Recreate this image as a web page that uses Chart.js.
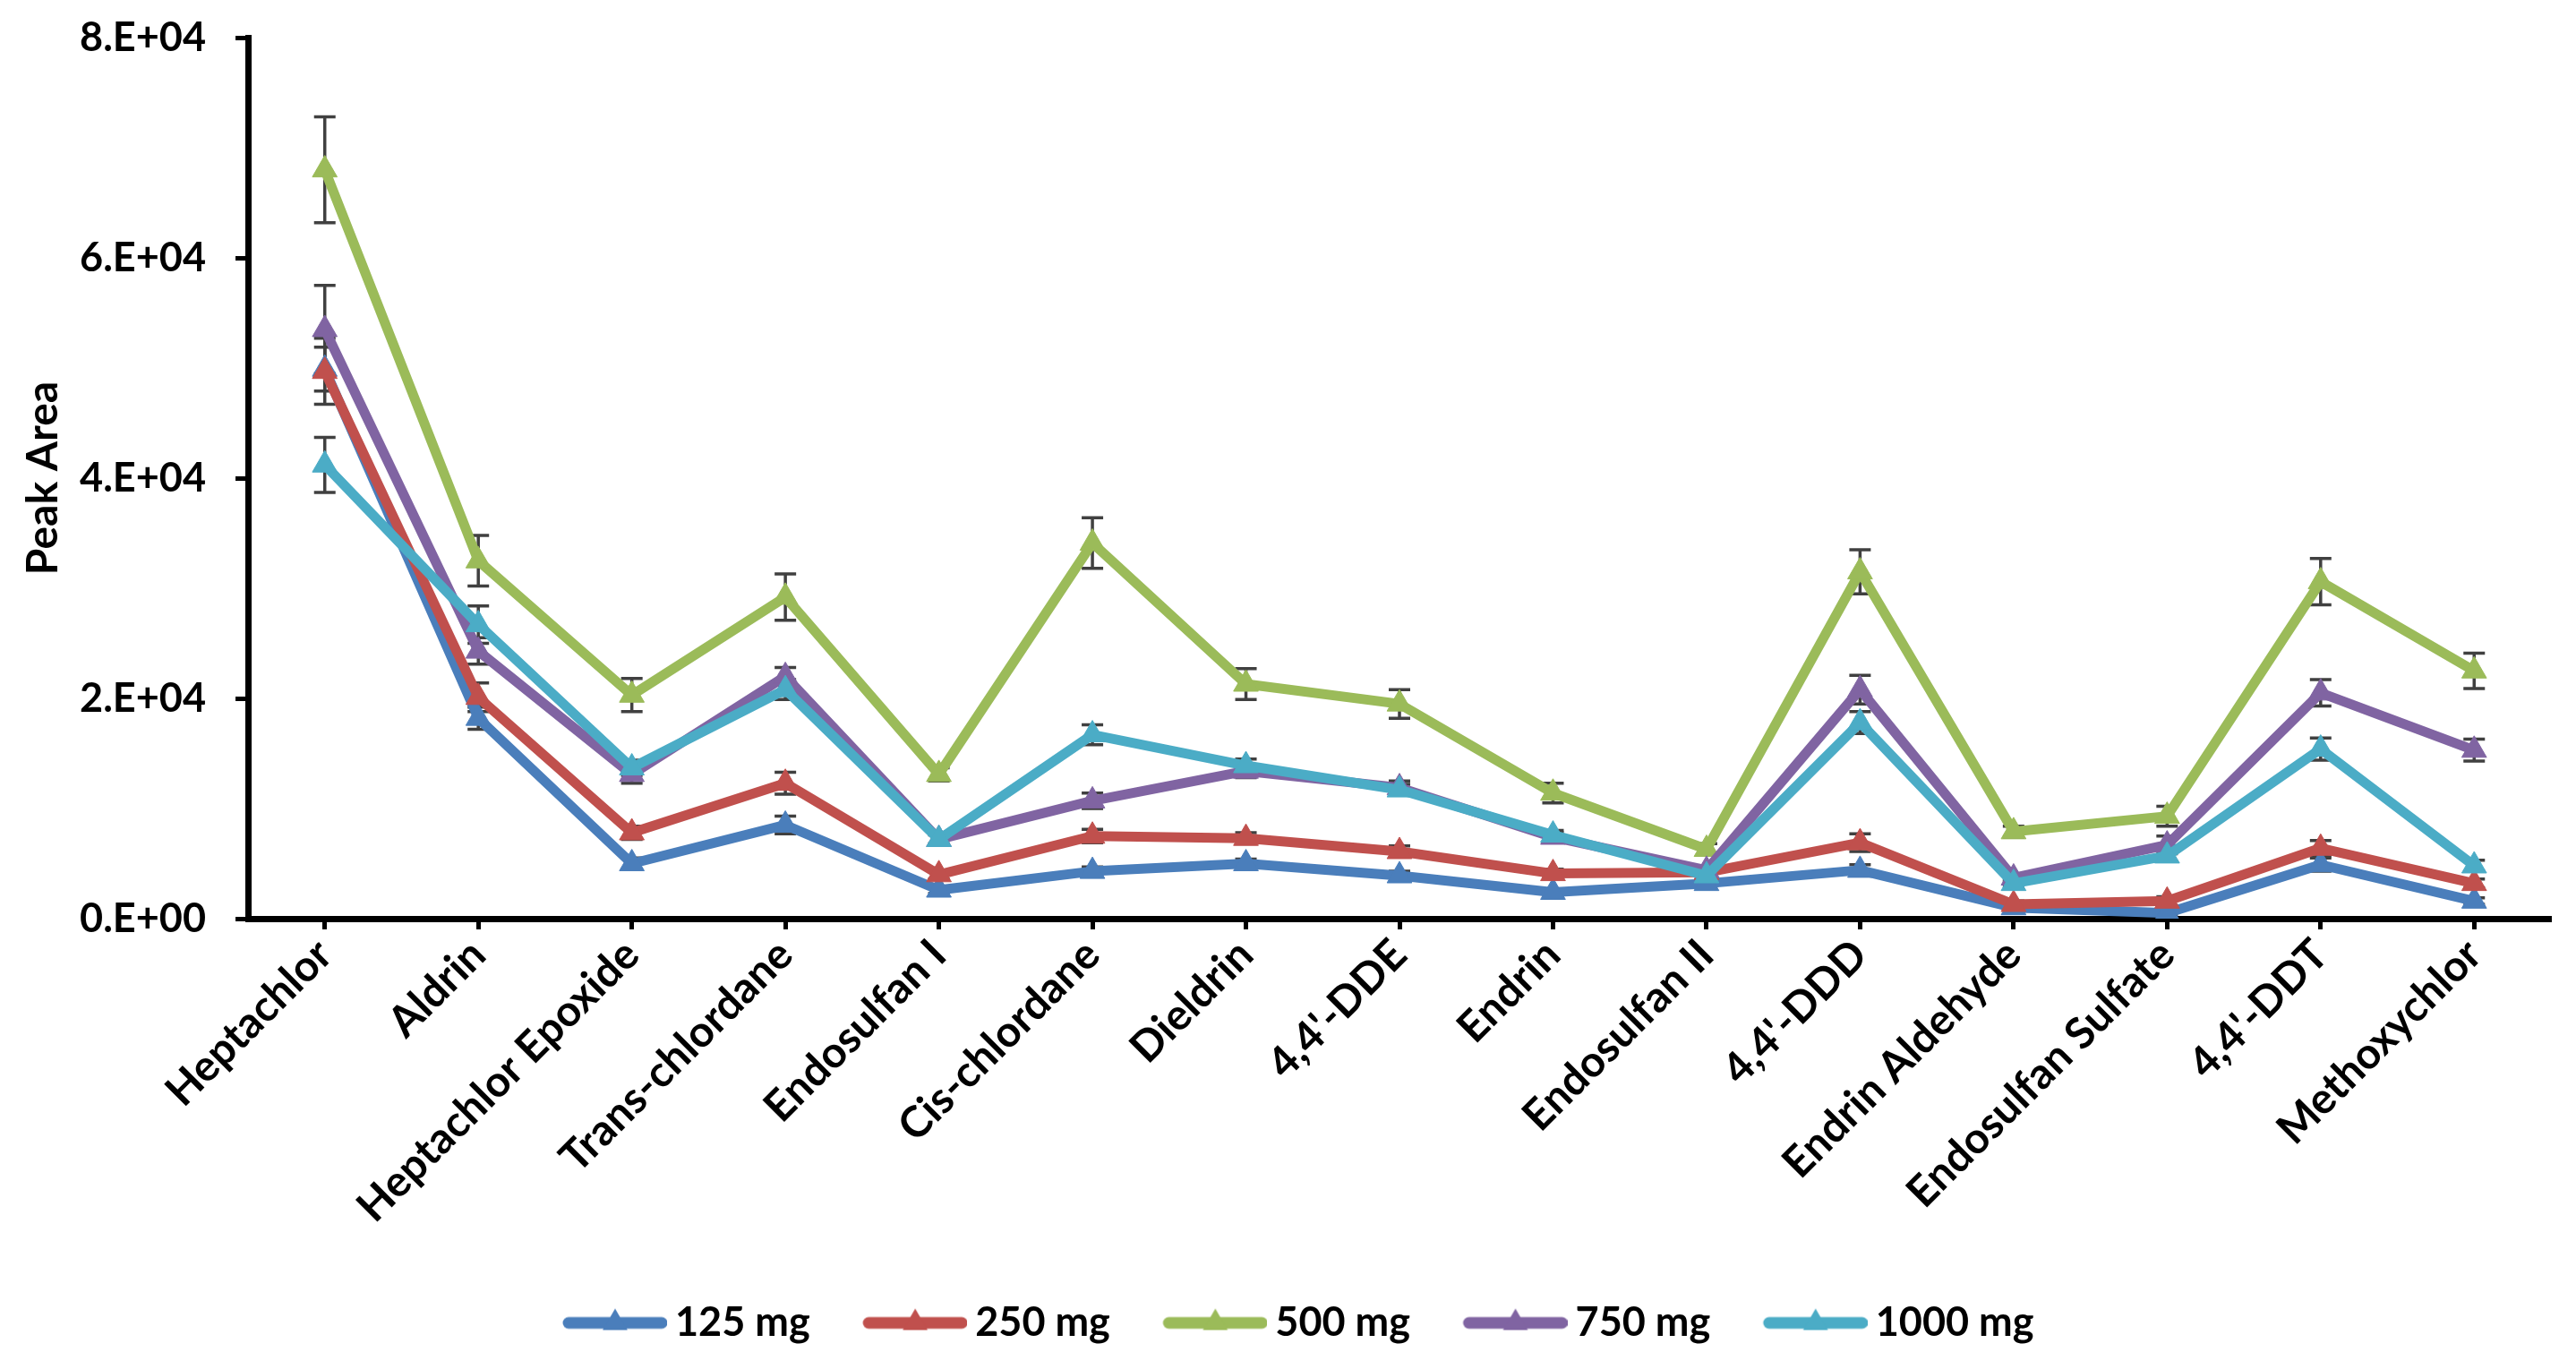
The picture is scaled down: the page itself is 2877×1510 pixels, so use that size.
<!DOCTYPE html>
<html>
<head>
<meta charset="utf-8">
<script src="https://cdn.jsdelivr.net/npm/chart.js@4.4.1/dist/chart.umd.min.js"></script>
<style>
  html, body { margin: 0; padding: 0; background: #ffffff; }
  #wrap { width: 2877px; height: 1510px; position: relative; }
</style>
</head>
<body>
<div id="wrap"><canvas id="c" width="2877" height="1510"></canvas></div>
<script>
// ---------- data ----------
const categories = ['Heptachlor', 'Aldrin', 'Heptachlor Epoxide', 'Trans-chlordane', 'Endosulfan I',
  'Cis-chlordane', 'Dieldrin', "4,4'-DDE", 'Endrin', 'Endosulfan II', "4,4'-DDD",
  'Endrin Aldehyde', 'Endosulfan Sulfate', "4,4'-DDT", 'Methoxychlor'];

const seriesNames = ['125 mg', '250 mg', '500 mg', '750 mg', '1000 mg'];

const mg125  = [49900, 18200, 5000, 8500, 2600, 4300, 5000, 3900, 2400, 3200, 4400, 1000, 500, 4900, 1600];
const mg250  = [49700, 20100, 7800, 12300, 4000, 7500, 7300, 6100, 4100, 4200, 6900, 1300, 1600, 6400, 3200];
const mg500  = [68000, 32500, 20300, 29200, 13100, 34100, 21300, 19500, 11400, 6300, 31500, 7900, 9300, 30600, 22500];
const mg750  = [53500, 24300, 13100, 22000, 7200, 10700, 13400, 11900, 7400, 4400, 20800, 3700, 6700, 20500, 15300];
const mg1000 = [41200, 26700, 13700, 20800, 7200, 16700, 13900, 11700, 7600, 3900, 17800, 3200, 5700, 15400, 4800];

const err125  = [2000, 1000, 500, 800, 300, 400, 400, 400, 300, 300, 500, 200, 200, 600, 300];
const err250  = [3000, 1300, 600, 1000, 400, 600, 500, 500, 400, 300, 800, 300, 400, 700, 400];
const err500  = [4800, 2300, 1500, 2100, 600, 2300, 1400, 1300, 900, 500, 2000, 500, 900, 2100, 1600];
const err750  = [4000, 1200, 800, 800, 500, 700, 600, 600, 400, 300, 1300, 300, 800, 1200, 1000];
const err1000 = [2500, 1700, 700, 900, 400, 900, 600, 500, 400, 300, 1000, 300, 500, 1000, 500];

const yTickLabels = ['0.E+00', '2.E+04', '4.E+04', '6.E+04', '8.E+04'];
const yTitle = 'Peak Area';

const colors = ['#4A7EBB', '#C0504D', '#9BBB59', '#8064A2', '#4BACC6'];
const values = [mg125, mg250, mg500, mg750, mg1000];
const errors = [err125, err250, err500, err750, err1000];

// ---------- styling ----------
const FONT = 'Lato';
const LINE_W = 11;
const PT_R = 16;

function makeLegendIcon(color) {
  const c = document.createElement('canvas');
  c.width = 181; c.height = 44;
  const g = c.getContext('2d');
  const x0 = 71, x1 = 175, cy = 22;
  g.strokeStyle = color; g.lineWidth = 13; g.lineCap = 'round';
  g.beginPath(); g.moveTo(x0, cy); g.lineTo(x1, cy); g.stroke();
  const cx = (x0 + x1) / 2, r = PT_R;
  g.fillStyle = color;
  g.beginPath();
  g.moveTo(cx, cy - r);
  g.lineTo(cx + r * Math.sqrt(3) / 2, cy + r / 2);
  g.lineTo(cx - r * Math.sqrt(3) / 2, cy + r / 2);
  g.closePath(); g.fill();
  return c;
}
const legendIcons = colors.map(makeLegendIcon);

const errorBarPlugin = {
  id: 'errorBars',
  beforeDatasetsDraw(chart) {
    const ctx = chart.ctx, ys = chart.scales.y;
    ctx.save();
    ctx.strokeStyle = '#404040';
    ctx.lineWidth = 3.5;
    chart.data.datasets.forEach((ds, di) => {
      const meta = chart.getDatasetMeta(di);
      meta.data.forEach((pt, i) => {
        const v = ds.data[i], e = ds.errors[i];
        const yt = ys.getPixelForValue(v + e), yb = ys.getPixelForValue(v - e);
        const x = pt.x, hw = 12;
        ctx.beginPath();
        ctx.moveTo(x, yt); ctx.lineTo(x, yb);
        ctx.moveTo(x - hw, yt); ctx.lineTo(x + hw, yt);
        ctx.moveTo(x - hw, yb); ctx.lineTo(x + hw, yb);
        ctx.stroke();
      });
    });
    ctx.restore();
  }
};

const datasets = seriesNames.map((name, i) => ({
  label: name,
  data: values[i],
  errors: errors[i],
  borderColor: colors[i],
  backgroundColor: colors[i],
  pointBackgroundColor: colors[i],
  pointBorderColor: colors[i],
  pointBorderWidth: 1,
  pointStyle: 'triangle',
  pointRadius: PT_R,
  pointHoverRadius: PT_R,
  borderWidth: LINE_W,
  borderJoinStyle: 'round',
  tension: 0,
  order: seriesNames.length - i
}));

new Chart(document.getElementById('c'), {
  type: 'line',
  data: { labels: categories, datasets },
  options: {
    responsive: false,
    animation: false,
    devicePixelRatio: 1,
    layout: { padding: { top: 42, right: 28, bottom: 0, left: 0 } },
    scales: {
      x: {
        offset: true,
        grid: { display: true, offset: false, drawOnChartArea: false, drawTicks: true,
                tickLength: 12, tickWidth: 5, tickColor: '#000' },
        border: { display: true, color: '#000', width: 7 },
        ticks: { autoSkip: false, maxRotation: 45, minRotation: 45, padding: 0, color: '#000',
                 font: { family: FONT, weight: 'bold', size: 48 } },
        afterFit(scale) { scale.height = 421; }
      },
      y: {
        min: 0, max: 80000,
        ticks: { stepSize: 20000, padding: 33, color: '#000',
                 font: { family: FONT, weight: 'bold', size: 45 },
                 callback: (v, idx) => yTickLabels[idx] },
        grid: { display: true, drawOnChartArea: false, drawTicks: true,
                tickLength: 14, tickWidth: 5, tickColor: '#000' },
        border: { display: true, color: '#000', width: 7 },
        title: { display: true, text: yTitle, color: '#000', padding: { top: 20, bottom: 0 },
                 font: { family: FONT, weight: 'bold', size: 48 } },
        afterFit(scale) { scale.width = 277; scale.paddingTop = 0; scale.paddingBottom = 0; }
      }
    },
    plugins: {
      legend: {
        position: 'bottom',
        labels: {
          usePointStyle: true,
          pointStyleWidth: 154,
          padding: 8,
          color: '#000',
          font: { family: FONT, weight: 'bold', size: 45 },
          generateLabels(ch) {
            const items = Chart.defaults.plugins.legend.labels.generateLabels(ch);
            items.forEach(it => { it.pointStyle = legendIcons[it.datasetIndex]; });
            return items.sort((a, b) => a.datasetIndex - b.datasetIndex);
          }
        }
      },
      tooltip: { enabled: false }
    }
  },
  plugins: [errorBarPlugin]
});
</script>
</body>
</html>
